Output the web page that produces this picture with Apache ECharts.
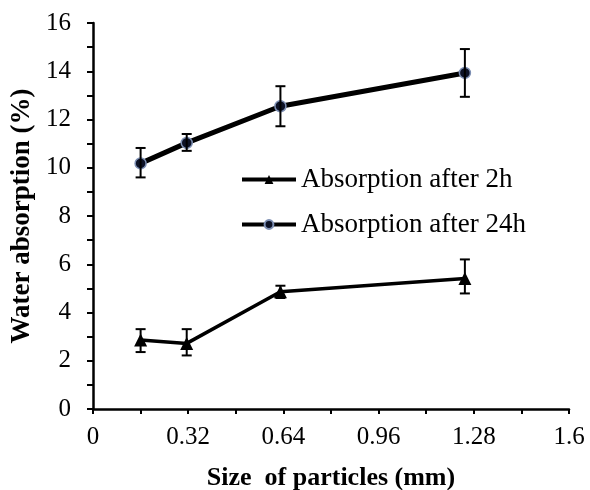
<!DOCTYPE html>
<html>
<head>
<meta charset="utf-8">
<script src="https://cdn.jsdelivr.net/npm/echarts@6/dist/echarts.min.js"></script>
<style>
  html, body { margin: 0; padding: 0; background: #fff; }
  #chart { width: 590px; height: 490px; }
</style>
</head>
<body>
<div id="chart"></div>
<script>
// particle size (mm)
var sizes = [0.16, 0.315, 0.63, 1.25];
// absorption after 2h (%), with error bar ends
var abs2h = [2.86, 2.72, 4.86, 5.41];
var abs2hLow = [2.36, 2.22, 4.6, 4.79];
var abs2hHigh = [3.31, 3.31, 5.11, 6.2];
// absorption after 24h (%), with error bar ends
var abs24h = [10.18, 11.03, 12.55, 13.93];
var abs24hLow = [9.6, 10.7, 11.72, 12.94];
var abs24hHigh = [10.82, 11.4, 13.38, 14.92];

var seriesNames = ['Absorption after 2h', 'Absorption after 24h'];
var fontFamily = '"Liberation Serif", "Times New Roman", serif';

function pairs(xs, ys) {
  return xs.map(function (x, i) { return [x, ys[i]]; });
}
function bars(xs, lo, hi) {
  return xs.map(function (x, i) { return [x, lo[i], hi[i]]; });
}

// error bars with caps
function renderErr(params, api) {
  var x = api.value(0);
  var top = api.coord([x, api.value(2)]);
  var bot = api.coord([x, api.value(1)]);
  var half = 5;
  var st = { stroke: '#000', lineWidth: 2 };
  return {
    type: 'group',
    children: [
      { type: 'line', shape: { x1: top[0], y1: top[1], x2: bot[0], y2: bot[1] }, style: st },
      { type: 'line', shape: { x1: top[0] - half, y1: top[1], x2: top[0] + half, y2: top[1] }, style: st },
      { type: 'line', shape: { x1: bot[0] - half, y1: bot[1], x2: bot[0] + half, y2: bot[1] }, style: st }
    ]
  };
}

var chart = echarts.init(document.getElementById('chart'));
chart.setOption({
  animation: false,
  backgroundColor: '#fff',
  textStyle: { fontFamily: fontFamily, color: '#000' },
  grid: { left: 93, right: 21, top: 23, bottom: 81, outerBoundsMode: 'none', containLabel: false },
  legend: {
    data: seriesNames,
    orient: 'vertical',
    left: 240,
    top: 166,
    padding: 0,
    itemWidth: 54,
    itemHeight: 11,
    itemGap: 18,
    lineStyle: { width: 4, color: '#000' },
    textStyle: { fontFamily: fontFamily, fontSize: 27, color: '#000' }
  },
  xAxis: {
    type: 'value',
    min: 0,
    max: 1.6,
    interval: 0.32,
    name: 'Size  of particles (mm)',
    nameLocation: 'middle',
    nameGap: 56,
    nameTextStyle: { fontFamily: fontFamily, fontSize: 26, fontWeight: 'bold', color: '#000' },
    axisLine: { lineStyle: { color: '#000', width: 2.5 } },
    axisTick: { show: true, inside: false, length: 5, lineStyle: { color: '#000', width: 2 } },
    minorTick: { show: true, splitNumber: 2, length: 5, lineStyle: { color: '#000', width: 2 } },
    splitLine: { show: false },
    axisLabel: {
      fontFamily: fontFamily, fontSize: 25, color: '#000', margin: 16,
      formatter: function (v) { return String(parseFloat(v.toFixed(2))); }
    }
  },
  yAxis: {
    type: 'value',
    min: 0,
    max: 16,
    interval: 2,
    name: 'Water absorption (%)',
    nameLocation: 'middle',
    nameGap: 53,
    nameTextStyle: { fontFamily: fontFamily, fontSize: 27, fontWeight: 'bold', color: '#000' },
    axisLine: { show: true, lineStyle: { color: '#000', width: 2.5 } },
    axisTick: { show: true, inside: false, length: 6, lineStyle: { color: '#000', width: 2 } },
    minorTick: { show: true, splitNumber: 2, length: 6, lineStyle: { color: '#000', width: 2 } },
    splitLine: { show: false },
    axisLabel: { fontFamily: fontFamily, fontSize: 25, color: '#000', margin: 22 }
  },
  series: [
    {
      name: seriesNames[0],
      type: 'line',
      data: pairs(sizes, abs2h),
      symbol: 'triangle',
      symbolSize: 13,
      itemStyle: { color: '#000' },
      lineStyle: { color: '#000', width: 3.5 },
      z: 3
    },
    {
      name: seriesNames[1],
      type: 'line',
      data: pairs(sizes, abs24h),
      symbol: 'circle',
      symbolSize: 11,
      showAllSymbol: true,
      itemStyle: { color: '#0d1226', borderColor: '#7d8fb3', borderWidth: 1.5 },
      lineStyle: { color: '#000', width: 5 },
      z: 3
    },
    {
      type: 'custom',
      renderItem: renderErr,
      data: bars(sizes, abs2hLow, abs2hHigh),
      z: 4,
      silent: true
    },
    {
      type: 'custom',
      renderItem: renderErr,
      data: bars(sizes, abs24hLow, abs24hHigh),
      z: 4,
      silent: true
    }
  ]
});
</script>
</body>
</html>
